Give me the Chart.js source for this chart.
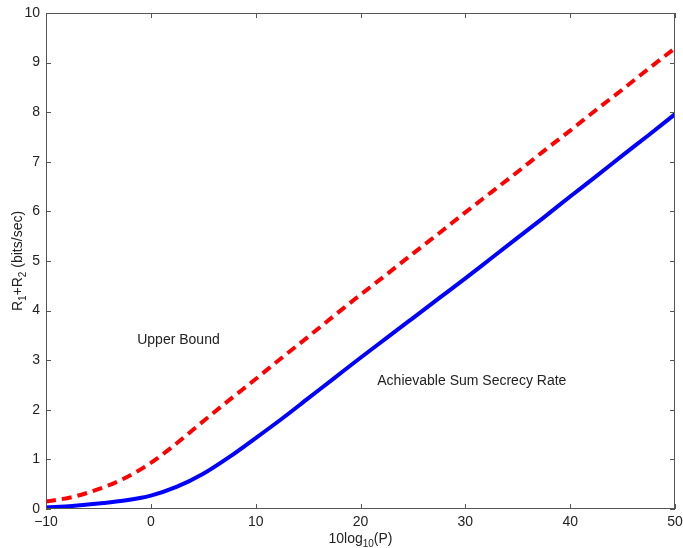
<!DOCTYPE html>
<html><head><meta charset="utf-8">
<script src="https://cdn.jsdelivr.net/npm/chart.js@4/dist/chart.umd.min.js"></script>
<style>html,body{margin:0;padding:0;background:#fff}#wrap{width:683px;height:548px}</style>
</head><body><div id="wrap"><canvas id="c" width="683" height="548"></canvas></div>
<script>
const xValues = [-10,-7.5,-5,-2.5,0,2.5,5,7.5,10,12.5,15,17.5,20,22.5,25,27.5,30,32.5,35,37.5,40,42.5,45,47.5,50];
const upperBound = [0.15,0.24,0.4,0.62,0.93,1.33,1.77,2.2,2.62,3.05,3.47,3.9,4.32,4.73,5.15,5.56,5.98,6.39,6.8,7.22,7.63,8.05,8.46,8.88,9.29];
const achievable = [0.03,0.06,0.11,0.17,0.27,0.45,0.71,1.05,1.43,1.82,2.23,2.64,3.05,3.45,3.85,4.25,4.65,5.06,5.47,5.88,6.3,6.71,7.13,7.54,7.96];
const xTicks = [-10,0,10,20,30,40,50];
const yTicks = [0,1,2,3,4,5,6,7,8,9,10];
const labels = [
  {text:'Upper Bound', x:-1.3, y:3.4},
  {text:'Achievable Sum Secrecy Rate', x:21.6, y:2.58}
];
const FONT = '"Liberation Sans", Arial, Helvetica, sans-serif';

const framePlugin = {
  id:'frame',
  afterDraw(chart){
    const {ctx, chartArea:a, scales:{x,y}} = chart;
    ctx.save();
    ctx.strokeStyle = '#555'; ctx.lineWidth = 1;
    ctx.strokeRect(a.left+0.5, a.top+0.5, a.right-a.left-1, a.bottom-a.top-1);
    const L = 5;
    ctx.beginPath();
    xTicks.forEach(v=>{const p=Math.round(x.getPixelForValue(v))+0.5;
      ctx.moveTo(p,a.bottom); ctx.lineTo(p,a.bottom-L);
      ctx.moveTo(p,a.top); ctx.lineTo(p,a.top+L);});
    yTicks.forEach(v=>{const p=Math.round(y.getPixelForValue(v))+0.5;
      ctx.moveTo(a.left,p); ctx.lineTo(a.left+L,p);
      ctx.moveTo(a.right,p); ctx.lineTo(a.right-L,p);});
    ctx.stroke();
    ctx.fillStyle = '#222'; ctx.font = '14px '+FONT; ctx.textBaseline='middle'; ctx.textAlign='left';
    labels.forEach(l=>ctx.fillText(l.text, x.getPixelForValue(l.x), y.getPixelForValue(l.y)));
    const drawParts = (parts, cx, cy) => {
      let w = 0;
      parts.forEach(p=>{ctx.font=(p.sub?'10px ':'14px ')+FONT; w+=ctx.measureText(p.t).width;});
      let px = cx - w/2;
      parts.forEach(p=>{ctx.font=(p.sub?'10px ':'14px ')+FONT;
        ctx.fillText(p.t, px, cy + (p.sub?5:0)); px+=ctx.measureText(p.t).width;});
    };
    drawParts([{t:'10log'},{t:'10',sub:true},{t:'(P)'}], (a.left+a.right)/2, 539);
    ctx.save();
    ctx.translate(18, (a.top+a.bottom)/2);
    ctx.rotate(-Math.PI/2);
    drawParts([{t:'R'},{t:'1',sub:true},{t:'+R'},{t:'2',sub:true},{t:' (bits/sec)'}], 0, 0);
    ctx.restore();
    ctx.restore();
  }
};

new Chart(document.getElementById('c'), {
  type:'line',
  data:{
    labels:xValues,
    datasets:[
      {label:'Upper Bound', data:xValues.map((v,i)=>({x:v,y:upperBound[i]})),
       borderColor:'#ff0000', borderWidth:4, borderDash:[10,6], pointRadius:0,
       cubicInterpolationMode:'monotone', fill:false},
      {label:'Achievable Sum Secrecy Rate', data:xValues.map((v,i)=>({x:v,y:achievable[i]})),
       borderColor:'#0000ff', borderWidth:4, pointRadius:0,
       cubicInterpolationMode:'monotone', fill:false}
    ]
  },
  options:{
    responsive:false, animation:false,
    layout:{padding:{top:13,right:8,left:0,bottom:0}},
    plugins:{legend:{display:false}, tooltip:{enabled:false}},
    scales:{
      x:{type:'linear', min:-10, max:50,
        afterBuildTicks(s){s.ticks = xTicks.map(v=>({value:v}));},
        afterFit(s){s.height=39; s.paddingLeft=0; s.paddingRight=0;},
        grid:{display:false, drawTicks:false}, border:{display:false},
        ticks:{padding:5, color:'#222', font:{size:14, family:FONT},
          callback:v=> v<0 ? '\u2212'+Math.abs(v) : String(v), maxRotation:0, autoSkip:false}},
      y:{min:0, max:10,
        afterBuildTicks(s){s.ticks = yTicks.map(v=>({value:v}));},
        afterFit(s){s.width=46; s.paddingTop=0; s.paddingBottom=0;},
        grid:{display:false, drawTicks:false}, border:{display:false},
        ticks:{padding:6, color:'#222', font:{size:14, family:FONT}, autoSkip:false}}
    }
  },
  plugins:[framePlugin]
});
</script></body></html>
